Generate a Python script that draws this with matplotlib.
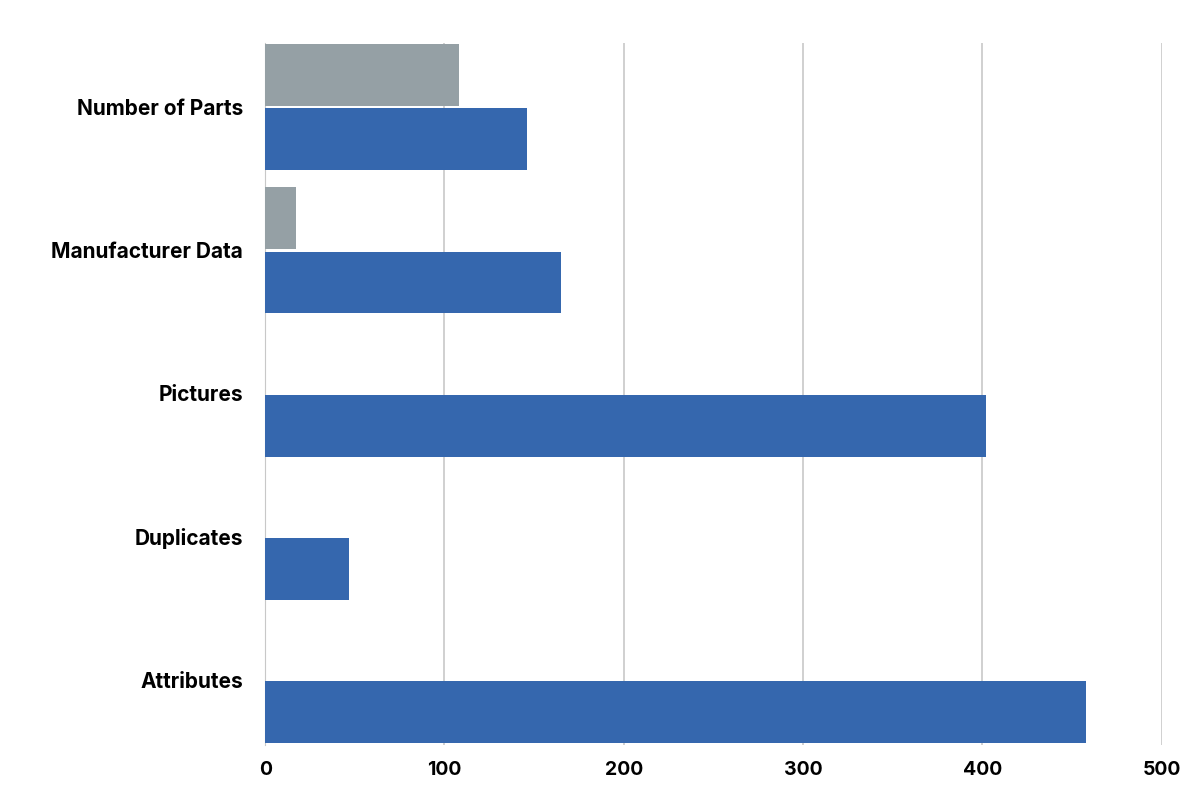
import matplotlib
matplotlib.use("Agg")
import matplotlib.pyplot as plt
import numpy as np

categories = ["Number of Parts", "Manufacturer Data", "Pictures", "Duplicates", "Attributes"]
gray_values = [108, 17, 0, 0, 0]
blue_values = [146, 165, 402, 47, 458]
xticks = [0, 100, 200, 300, 400, 500]

plt.rcParams['font.family'] = ['Inter', 'DejaVu Sans']
fig = plt.figure(figsize=(12, 8), dpi=100)
ax = fig.add_axes([0.221, 0.069, 0.747, 0.877])
y = np.arange(len(categories))
h = 0.432
ax.barh(y - 0.225, gray_values, height=h, color="#95A0A5", zorder=3)
ax.barh(y + 0.225, blue_values, height=h, color="#3567AE", zorder=3)
ax.set_ylim(len(categories) - 1 + 0.453, -0.446)
ax.set_xlim(0, 500)
ax.set_xticks(xticks)
ax.set_xticklabels([str(t) for t in xticks], fontsize=14, fontweight="bold")
ax.set_yticks(y)
ax.set_yticklabels(categories, fontsize=15, fontweight="bold")
ax.tick_params(length=0, pad=12)
ax.tick_params(axis='y', pad=16)
ax.xaxis.grid(True, color="#C8C8C8", linewidth=1.2, zorder=0)
for s in ["top", "right", "bottom"]:
    ax.spines[s].set_visible(False)
ax.spines["left"].set_color("#C8C8C8")
fig.savefig("out.png", dpi=100)
